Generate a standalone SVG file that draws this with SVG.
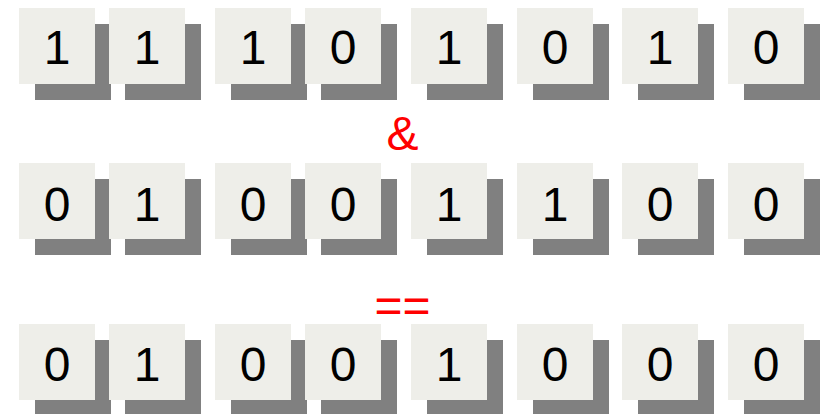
<svg xmlns="http://www.w3.org/2000/svg" width="825" height="414" viewBox="0 0 825 414">
<style>
.sh{fill:#808080}
.bx{fill:#eeeee9}
.d{font-family:"Liberation Sans",Arial,sans-serif;font-size:48px;fill:#000;text-anchor:middle}
.op{font-family:"Liberation Sans",Arial,sans-serif;font-size:48px;fill:#ff0000;text-anchor:middle}
</style>
<rect width="825" height="414" fill="#ffffff"/>
<defs>
<g id="cell"><rect class="sh" x="16" y="16" width="76" height="76"/><rect class="bx" x="0" y="0" width="76" height="76"/></g>
</defs>
<g id="row1">
<g id="a0" transform="translate(19,8)"><use href="#cell"/><text class="d" x="38" y="56">1</text></g>
<g id="a1" transform="translate(109,8)"><use href="#cell"/><text class="d" x="38" y="56">1</text></g>
<g id="a2" transform="translate(215,8)"><use href="#cell"/><text class="d" x="38" y="56">1</text></g>
<g id="a3" transform="translate(305,8)"><use href="#cell"/><text class="d" x="38" y="56">0</text></g>
<g id="a4" transform="translate(411,8)"><use href="#cell"/><text class="d" x="38" y="56">1</text></g>
<g id="a5" transform="translate(517,8)"><use href="#cell"/><text class="d" x="38" y="56">0</text></g>
<g id="a6" transform="translate(622,8)"><use href="#cell"/><text class="d" x="38" y="56">1</text></g>
<g id="a7" transform="translate(728,8)"><use href="#cell"/><text class="d" x="38" y="56">0</text></g>
</g>
<g id="row2">
<g id="b0" transform="translate(19,163)"><use href="#cell"/><text class="d" x="38" y="58">0</text></g>
<g id="b1" transform="translate(109,163)"><use href="#cell"/><text class="d" x="38" y="58">1</text></g>
<g id="b2" transform="translate(215,163)"><use href="#cell"/><text class="d" x="38" y="58">0</text></g>
<g id="b3" transform="translate(305,163)"><use href="#cell"/><text class="d" x="38" y="58">0</text></g>
<g id="b4" transform="translate(411,163)"><use href="#cell"/><text class="d" x="38" y="58">1</text></g>
<g id="b5" transform="translate(517,163)"><use href="#cell"/><text class="d" x="38" y="58">1</text></g>
<g id="b6" transform="translate(622,163)"><use href="#cell"/><text class="d" x="38" y="58">0</text></g>
<g id="b7" transform="translate(728,163)"><use href="#cell"/><text class="d" x="38" y="58">0</text></g>
</g>
<g id="row3">
<g id="c0" transform="translate(19,324)"><use href="#cell"/><text class="d" x="38" y="57">0</text></g>
<g id="c1" transform="translate(109,324)"><use href="#cell"/><text class="d" x="38" y="57">1</text></g>
<g id="c2" transform="translate(215,324)"><use href="#cell"/><text class="d" x="38" y="57">0</text></g>
<g id="c3" transform="translate(305,324)"><use href="#cell"/><text class="d" x="38" y="57">0</text></g>
<g id="c4" transform="translate(411,324)"><use href="#cell"/><text class="d" x="38" y="57">1</text></g>
<g id="c5" transform="translate(517,324)"><use href="#cell"/><text class="d" x="38" y="57">0</text></g>
<g id="c6" transform="translate(622,324)"><use href="#cell"/><text class="d" x="38" y="57">0</text></g>
<g id="c7" transform="translate(728,324)"><use href="#cell"/><text class="d" x="38" y="57">0</text></g>
</g>
<g id="ops">
<text class="op" x="402.5" y="150">&amp;</text>
<text class="op" x="402.5" y="322">==</text>
</g>
</svg>
